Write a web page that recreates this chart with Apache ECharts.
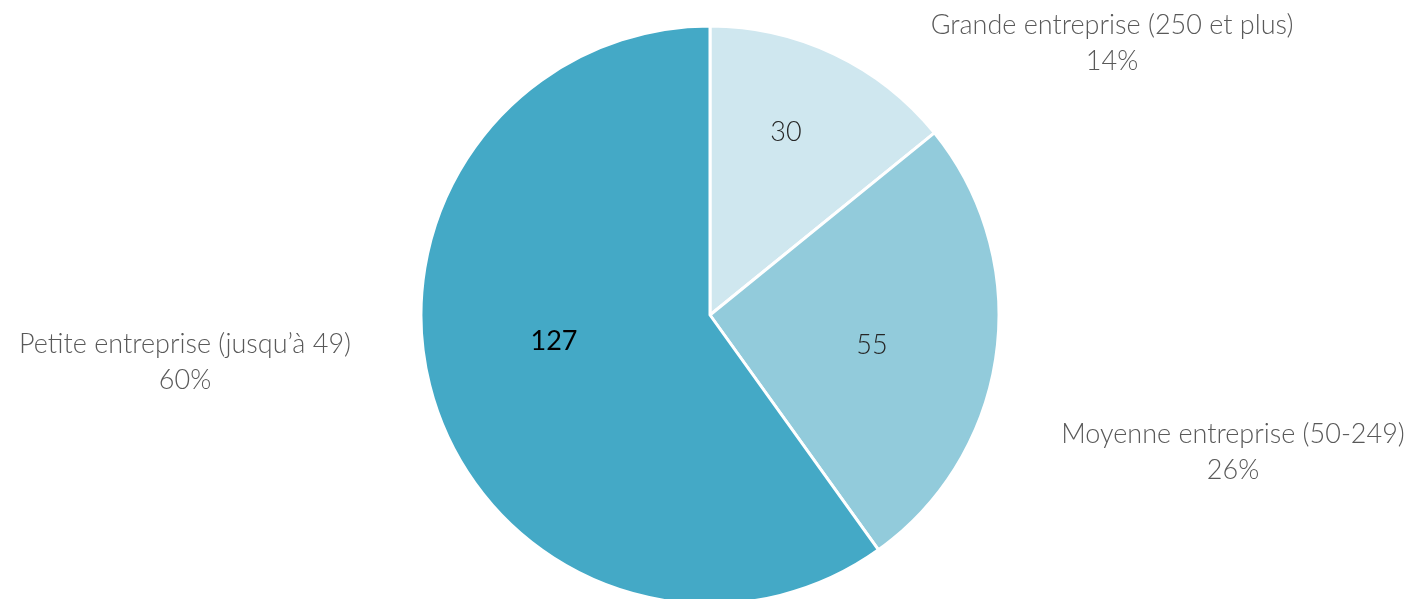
<!DOCTYPE html>
<html>
<head>
<meta charset="utf-8">
<script src="https://cdn.jsdelivr.net/npm/echarts@6/dist/echarts.min.js"></script>
<style>
html,body{margin:0;padding:0;background:#fff;}
#chart{width:1410px;height:599px;}
</style>
</head>
<body>
<div id="chart"></div>
<script>
const categories = ['Grande entreprise (250 et plus)', 'Moyenne entreprise (50-249)', 'Petite entreprise (jusqu\u2019à 49)'];
const values = [30, 55, 127];
const percents = ['14%', '26%', '60%'];
const colors = ['#cfe7ef', '#92cbdb', '#44a9c6'];
const valueLabelColors = ['#262626', '#262626', '#000000'];
const valueLabelWeights = [300, 300, 400];

// label anchor positions (layout only)
const innerPos = [[786, 132], [872, 345], [554, 341]];
const outerPos = [[1112, 43], [1233, 452], [185, 362]];

const FONT = 'Lato, "Open Sans", sans-serif';

const chart = echarts.init(document.getElementById('chart'), null, {renderer: 'canvas'});
const data = categories.map((c, i) => ({
  name: c, value: values[i],
  itemStyle: {color: colors[i]}
}));

chart.setOption({
  animation: false,
  backgroundColor: '#ffffff',
  series: [
    {
      type: 'pie',
      center: [710, 315],
      radius: [0, 289],
      startAngle: 90,
      clockwise: true,
      itemStyle: {borderColor: '#ffffff', borderWidth: 3},
      data: data.map((d, i) => Object.assign({}, d, {
        label: {color: valueLabelColors[i], fontWeight: valueLabelWeights[i]}
      })),
      label: {
        show: true,
        position: 'inside',
        formatter: p => String(p.value),
        fontFamily: FONT,
        fontSize: 27
      },
      labelLayout: p => ({x: innerPos[p.dataIndex][0], y: innerPos[p.dataIndex][1], align: 'center', verticalAlign: 'middle'}),
      emphasis: {disabled: true}
    },
    {
      type: 'pie',
      center: [710, 315],
      radius: [0, 289],
      startAngle: 90,
      clockwise: true,
      silent: true,
      z: 1,
      itemStyle: {color: 'rgba(0,0,0,0)', borderWidth: 0},
      data: data.map(d => ({name: d.name, value: d.value, itemStyle: {color: 'rgba(0,0,0,0)'}})),
      label: {
        show: true,
        position: 'outside',
        formatter: p => p.name + '\n' + percents[p.dataIndex],
        fontFamily: FONT,
        fontWeight: 300,
        fontSize: 27,
        lineHeight: 36,
        color: '#595959',
        align: 'center'
      },
      labelLine: {show: false},
      labelLayout: p => ({x: outerPos[p.dataIndex][0], y: outerPos[p.dataIndex][1], align: 'center', verticalAlign: 'middle'}),
      emphasis: {disabled: true}
    }
  ]
});
</script>
</body>
</html>
